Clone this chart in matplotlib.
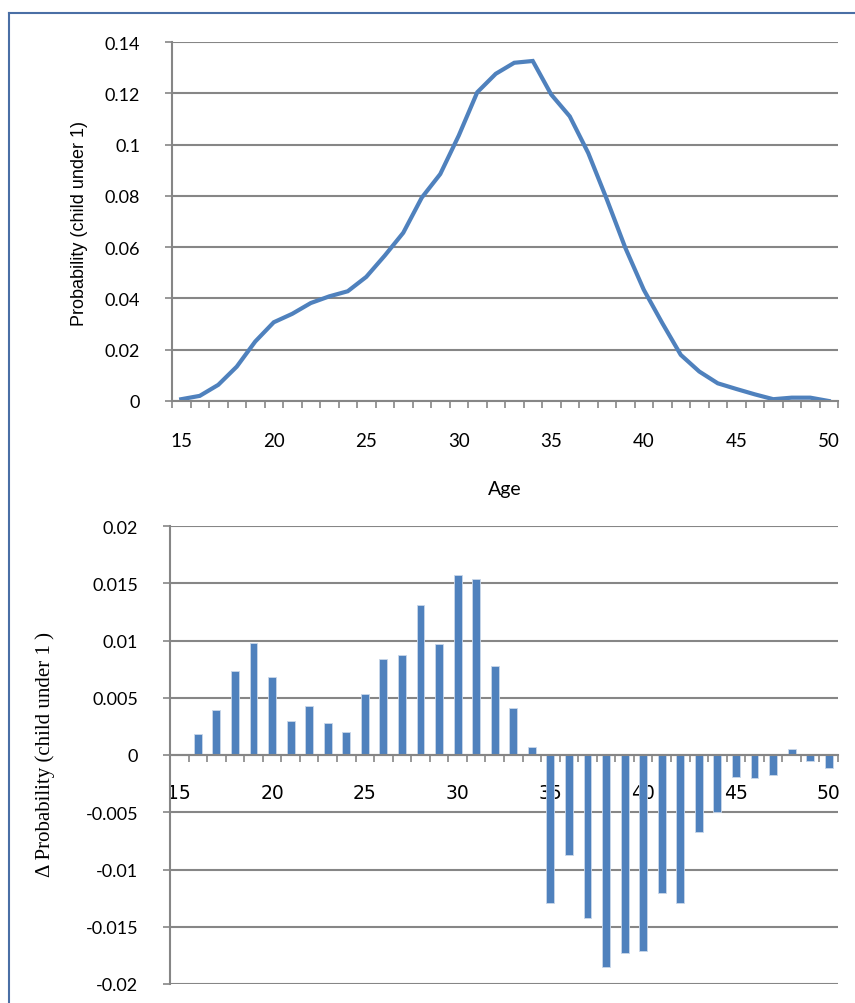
import matplotlib
matplotlib.use('Agg')
import matplotlib.pyplot as plt
from matplotlib.lines import Line2D

ages = list(range(15, 51))
prob = [0.0007, 0.002, 0.0063, 0.0134, 0.0232, 0.0307, 0.034, 0.0382, 0.0408, 0.0428,
        0.0484, 0.0567, 0.0656, 0.0793, 0.0885, 0.1035, 0.1204, 0.1276, 0.1319, 0.1326,
        0.1195, 0.111, 0.0967, 0.0787, 0.0598, 0.0434, 0.0304, 0.018, 0.0115, 0.0069,
        0.0047, 0.0026, 0.0007, 0.0013, 0.0013, 0.0]
delta = [0.0, 0.0018, 0.0039, 0.0073, 0.0098, 0.0068, 0.003, 0.0043, 0.0028, 0.002,
         0.0053, 0.0084, 0.0087, 0.0131, 0.0097, 0.0157, 0.0154, 0.0078, 0.0041, 0.0007,
         -0.01295, -0.0087, -0.0142, -0.0185, -0.0173, -0.0171, -0.01205, -0.01295, -0.0067, -0.005,
         -0.0019, -0.00205, -0.00176, 0.0005, -0.0005, -0.0011]
top_yticks = [0, 0.02, 0.04, 0.06, 0.08, 0.1, 0.12, 0.14]
top_ylabels = ['0', '0.02', '0.04', '0.06', '0.08', '0.1', '0.12', '0.14']
bot_yticks = [-0.02, -0.015, -0.01, -0.005, 0, 0.005, 0.01, 0.015, 0.02]
bot_ylabels = ['-0.02', '-0.015', '-0.01', '-0.005', '0', '0.005', '0.01', '0.015', '0.02']
xtick_ages = [15, 20, 25, 30, 35, 40, 45, 50]

blue = '#4F81BD'
gray = '#868686'
tick_font = ['Lato', 'DejaVu Sans']

fig = plt.figure(figsize=(8.55, 10.04), dpi=100)

def style(ax):
    for s in ['top', 'right']:
        ax.spines[s].set_visible(False)
    for s in ['left', 'bottom']:
        ax.spines[s].set_color(gray)
        ax.spines[s].set_linewidth(1.5)
    ax.set_xlim(14.5, 50.5)
    ax.set_xticks(xtick_ages)
    ax.set_xticks([a - 0.5 for a in ages] + [50.5], minor=True)
    ax.tick_params(axis='x', which='major', length=0, labelsize=13.5)
    ax.tick_params(axis='x', which='minor', length=5, width=1.2, color=gray, direction='out')
    ax.tick_params(axis='y', length=5, width=1.2, color=gray, direction='out', labelsize=13, pad=18)
    ax.yaxis.grid(True, color=gray, linewidth=1.5)
    ax.set_axisbelow(True)
    for lab in ax.get_xticklabels() + ax.get_yticklabels():
        lab.set_family(tick_font)

# top chart
ax1 = fig.add_axes([172 / 855, 1 - 402 / 1004, 666 / 855, 359 / 1004])
ax1.plot(ages, prob, color=blue, linewidth=3, solid_joinstyle='miter')
ax1.set_ylim(0, 0.14)
ax1.set_yticks(top_yticks)
ax1.set_yticklabels(top_ylabels)
style(ax1)
ax1.tick_params(axis='x', which='major', pad=22)
fig.text(505 / 855, 1 - 490 / 1004, 'Age', ha='center', va='center', fontsize=14, family=tick_font)
fig.text(80 / 855, 1 - 224 / 1004, 'Probability (child under 1)', rotation=90, ha='center', va='center',
         fontsize=13, family=['Liberation Sans', 'DejaVu Sans'])

# bottom chart
ax2 = fig.add_axes([170 / 855, 1 - 985 / 1004, 668 / 855, 458 / 1004])
ax2.bar(ages, delta, width=0.42, color=blue, edgecolor='#c9d7ea', linewidth=0.6)
ax2.set_ylim(-0.02, 0.02)
ax2.set_yticks(bot_yticks)
ax2.set_yticklabels(bot_ylabels)
style(ax2)
ax2.spines['bottom'].set_position(('data', 0))
ax2.tick_params(axis='x', which='major', pad=20)
fig.text(45 / 855, 1 - 755 / 1004, '\u0394 Probability (child under 1 )', rotation=90, ha='center', va='center',
         fontsize=15, family=['Liberation Serif', 'DejaVu Serif'])

# frame
frame_col = '#4A6FA5'
fig.add_artist(Line2D([9 / 855, 9 / 855], [0, 1 - 14 / 1004], color=frame_col, linewidth=1.5, transform=fig.transFigure))
fig.add_artist(Line2D([9 / 855, 1], [1 - 14 / 1004, 1 - 14 / 1004], color=frame_col, linewidth=1.5, transform=fig.transFigure))

fig.savefig('out.png', dpi=100)
